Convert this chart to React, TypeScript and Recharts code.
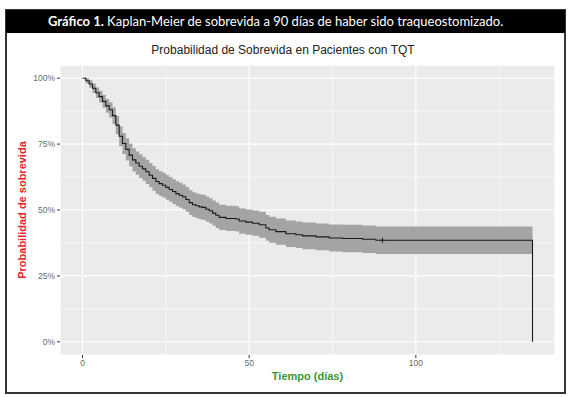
import React from 'react';
import { ComposedChart, Area, Line, Scatter, XAxis, YAxis, CartesianGrid } from 'recharts';

// Kaplan-Meier estimate (days, survival, 95% CI)
const days = [0, 1, 2, 3, 4, 5, 6, 7, 8, 9, 10, 11, 12, 13, 14, 15, 16, 17, 18, 19, 20, 21, 22, 23, 24, 25, 26, 27, 28, 29, 30, 31, 32, 33, 34, 35, 36, 37, 38, 39, 40, 41, 43, 46, 47, 49, 51, 53, 55, 56, 58, 61, 64, 66, 70, 74, 78, 84, 88, 135];
const survival = [1.0, 0.99, 0.978, 0.962, 0.945, 0.93, 0.912, 0.895, 0.88, 0.858, 0.822, 0.78, 0.752, 0.73, 0.708, 0.69, 0.678, 0.666, 0.656, 0.645, 0.632, 0.62, 0.608, 0.6, 0.594, 0.586, 0.578, 0.57, 0.562, 0.556, 0.55, 0.54, 0.528, 0.52, 0.516, 0.512, 0.51, 0.503, 0.497, 0.488, 0.48, 0.472, 0.468, 0.466, 0.458, 0.454, 0.45, 0.444, 0.432, 0.425, 0.418, 0.41, 0.406, 0.402, 0.398, 0.394, 0.392, 0.389, 0.385, 0];
const lowerCI = [1.0, 0.98, 0.964, 0.944, 0.925, 0.908, 0.888, 0.869, 0.851, 0.826, 0.787, 0.742, 0.712, 0.688, 0.665, 0.646, 0.634, 0.621, 0.611, 0.599, 0.586, 0.573, 0.561, 0.553, 0.547, 0.539, 0.531, 0.523, 0.515, 0.509, 0.503, 0.493, 0.481, 0.473, 0.469, 0.465, 0.462, 0.455, 0.449, 0.44, 0.432, 0.424, 0.42, 0.418, 0.41, 0.406, 0.402, 0.395, 0.383, 0.376, 0.368, 0.36, 0.356, 0.351, 0.347, 0.343, 0.34, 0.337, 0.333, 0.333];
const upperCI = [1.0, 1.0, 0.992, 0.98, 0.965, 0.952, 0.936, 0.921, 0.909, 0.89, 0.857, 0.818, 0.792, 0.772, 0.751, 0.734, 0.722, 0.711, 0.701, 0.691, 0.678, 0.667, 0.655, 0.647, 0.641, 0.633, 0.625, 0.617, 0.609, 0.603, 0.597, 0.587, 0.575, 0.567, 0.563, 0.559, 0.558, 0.551, 0.545, 0.536, 0.528, 0.52, 0.516, 0.514, 0.506, 0.502, 0.498, 0.493, 0.481, 0.474, 0.468, 0.46, 0.456, 0.453, 0.449, 0.445, 0.444, 0.441, 0.437, 0.437];
const censored = [{ t: 90, s: 0.385 }];

const xTicks = [0, 50, 100];
const xMinor = [25, 75, 125];
const yTicks = [0, 0.25, 0.5, 0.75, 1];
const yMinor = [0.125, 0.375, 0.625, 0.875];

const rows = days.map((t, i) => ({ t, s: survival[i], band: [lowerCI[i], upperCI[i]] }));

const pct = (v: number) => `${Math.round(v * 100)}%`;

const CensorMark = (props: any) => {
  const { cx, cy } = props;
  return <path d={`M${cx - 2.5},${cy}H${cx + 2.5}M${cx},${cy - 2.5}V${cy + 2.5}`} stroke="#1a1a1a" strokeWidth={1} />;
};

const tickStyle = { fontSize: 8.5, fill: '#6b6b6b', fontFamily: 'Liberation Sans, Arial, sans-serif' };

export default function App() {
  return (
    <div style={{ position: 'absolute', left: 0, top: 0, width: 572, height: 397, background: '#fff', fontFamily: 'Liberation Sans, Arial, sans-serif' }}>
      <div style={{ position: 'absolute', left: 5, top: 9, width: 557, height: 381, border: '2px solid #333' }} />
      <div style={{ position: 'absolute', left: 6, top: 10, width: 559, height: 23, background: '#000' }} />
      <div style={{ position: 'absolute', left: 48, top: 13, color: '#fff', fontFamily: 'Lato, sans-serif', fontSize: 13, whiteSpace: 'nowrap' }}>
        <b>Gráfico 1.</b> Kaplan-Meier de sobrevida a 90 días de haber sido traqueostomizado.
      </div>
      <div style={{ position: 'absolute', left: 0, width: 566, top: 43, textAlign: 'center', fontSize: 12, color: '#222', whiteSpace: 'nowrap' }}>
        Probabilidad de Sobrevida en Pacientes con TQT
      </div>
      <div style={{ position: 'absolute', left: 60, width: 495, top: 370, textAlign: 'center', fontSize: 11, fontWeight: 'bold', color: '#3a963a' }}>
        Tiempo (días)
      </div>
      <div style={{ position: 'absolute', left: 22, top: 210, transform: 'translate(-50%, -50%) rotate(-90deg)', fontSize: 11, fontWeight: 'bold', color: '#e3262b', whiteSpace: 'nowrap' }}>
        Probabilidad de sobrevida
      </div>
      <div style={{ position: 'absolute', left: 0, top: 0 }}>
        <ComposedChart width={572} height={397} data={rows} margin={{ top: 65, right: 17, bottom: 12, left: 10 }}>
          <CartesianGrid fill="#ebebeb" stroke="#fff" strokeWidth={1.1} />
          <CartesianGrid xAxisId="minor" yAxisId="minor" stroke="#fff" strokeWidth={0.55} fill="none" />
          <XAxis xAxisId="minor" dataKey="t" type="number" domain={[-6.75, 141.75]} ticks={xMinor} hide allowDataOverflow />
          <YAxis yAxisId="minor" type="number" domain={[-0.05, 1.05]} ticks={yMinor} hide allowDataOverflow />
          <XAxis dataKey="t" type="number" domain={[-6.75, 141.75]} ticks={xTicks} height={30} tickSize={3} tickMargin={2}
            axisLine={false} tickLine={{ stroke: '#333' }} tick={tickStyle} allowDataOverflow />
          <YAxis type="number" domain={[-0.05, 1.05]} ticks={yTicks} width={50} tickSize={3} tickMargin={2}
            axisLine={false} tickLine={{ stroke: '#333' }} tick={tickStyle} tickFormatter={pct} allowDataOverflow />
          <Area type="stepAfter" dataKey="band" fill="#a4a4a4" fillOpacity={1} stroke="none" isAnimationActive={false} />
          <Line type="stepAfter" dataKey="s" stroke="#1a1a1a" strokeWidth={1.1} dot={false} isAnimationActive={false} />
          <Scatter data={censored} dataKey="s" shape={<CensorMark />} isAnimationActive={false} />
        </ComposedChart>
      </div>
    </div>
  );
}
